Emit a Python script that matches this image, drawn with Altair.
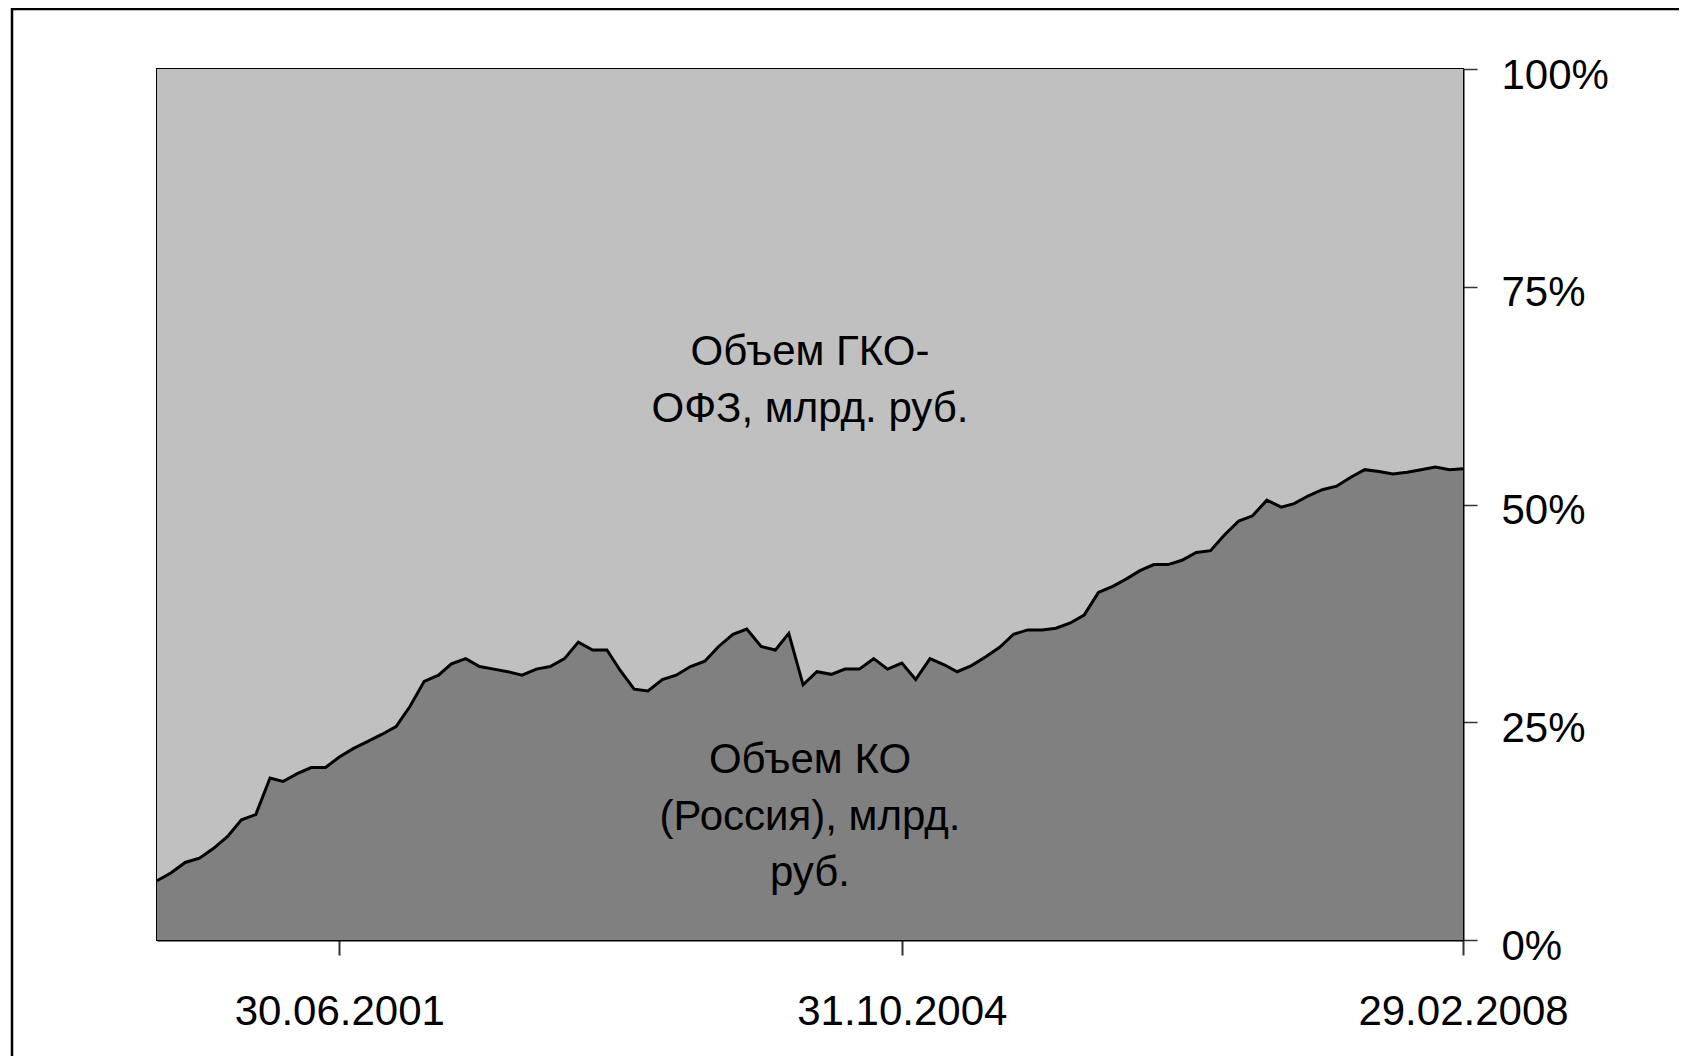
import calendar
import altair as alt
import pandas as pd

# Monthly observations, end of month, May 2000 .. Feb 2008
months = []
y, m = 2000, 5
while (y, m) <= (2008, 2):
    months.append(f"{y:04d}-{m:02d}-{calendar.monthrange(y, m)[1]:02d}")
    m += 1
    if m > 12:
        y, m = y + 1, 1

# Share of КО (Russia) in total, %
ko_share = [
    6.8, 7.7, 8.9, 9.4, 10.5, 11.9, 13.8, 14.4, 18.6, 18.2,
    19.1, 19.8, 19.8, 21.0, 22.0, 22.8, 23.6, 24.5, 26.8, 29.7,
    30.4, 31.7, 32.3, 31.4, 31.1, 30.8, 30.4, 31.1, 31.4, 32.3,
    34.2, 33.3, 33.3, 31.0, 28.8, 28.6, 29.9, 30.4, 31.4, 32.0,
    33.7, 35.1, 35.7, 33.7, 33.3, 35.2, 29.3, 30.8, 30.5, 31.1,
    31.1, 32.3, 31.1, 31.8, 29.9, 32.3, 31.6, 30.8, 31.5, 32.5,
    33.6, 35.1, 35.6, 35.6, 35.8, 36.4, 37.3, 39.9, 40.6, 41.4,
    42.4, 43.1, 43.1, 43.6, 44.5, 44.7, 46.5, 48.1, 48.7, 50.5,
    49.7, 50.1, 51.0, 51.7, 52.1, 53.1, 54.0, 53.8, 53.5, 53.7,
    54.0, 54.3, 54.0, 54.1,
]
gko_share = [round(100 - v, 1) for v in ko_share]

series_names = ["Объем КО (Россия), млрд. руб.", "Объем ГКО-ОФЗ, млрд. руб."]
series_colors = ["#808080", "#C0C0C0"]

# In-plot labels (text lines, anchor date, anchor share)
label_lines = ["Объем ГКО-", "ОФЗ, млрд. руб.", "Объем КО", "(Россия), млрд.", "руб."]
label_dates = ["2004-04-15"] * 5
label_pos = [0.675, 0.610, 0.207, 0.141, 0.077]

tick_dates = [(2001, 6, 30), (2004, 10, 31), (2008, 2, 29)]
y_ticks = [0, 0.25, 0.5, 0.75, 1]

rows = []
for d, a, b in zip(months, ko_share, gko_share):
    rows.append({"date": d, "series": series_names[0], "share": a, "order": 0})
    rows.append({"date": d, "series": series_names[1], "share": b, "order": 1})
df = pd.DataFrame(rows)
line_df = pd.DataFrame({"date": months, "pct": [v / 100 for v in ko_share]})
lab_df = pd.DataFrame({"date": label_dates, "pos": label_pos, "text": label_lines})

FONT = "Liberation Sans"

x_scale = alt.Scale(
    type="utc",
    domain=[alt.DateTime(year=2000, month=5, date=31, utc=True),
            alt.DateTime(year=2008, month=2, date=29, utc=True)],
    nice=False,
)
x_axis = alt.Axis(
    values=[alt.DateTime(year=a, month=b, date=c, utc=True) for a, b, c in tick_dates],
    format="%d.%m.%Y", title=None, grid=False,
    labelFontSize=42, labelFont=FONT, labelColor="black", labelPadding=36,
    labelLimit=0, labelOverlap=False,
    tickSize=15, tickColor="#333333", tickWidth=2,
    domainColor="black", domainWidth=2, labelFlush=False,
)
y_scale = alt.Scale(domain=[0, 1], nice=False)
y_axis = alt.Axis(
    orient="right", values=y_ticks, format=".0%", title=None, grid=False,
    labelFontSize=42, labelFont=FONT, labelColor="black", labelPadding=24,
    labelOffset=6, labelLimit=0,
    tickSize=14, tickColor="#333333", tickWidth=1.5,
    domainColor="black", domainWidth=2,
)

area = alt.Chart(df).mark_area(opacity=1).encode(
    x=alt.X("date:T", scale=x_scale, axis=x_axis),
    y=alt.Y("share:Q", stack="normalize", scale=y_scale, axis=y_axis),
    color=alt.Color("series:N", scale=alt.Scale(domain=series_names, range=series_colors), legend=None),
    order=alt.Order("order:Q"),
)

boundary = alt.Chart(line_df).mark_line(color="black", strokeWidth=3).encode(
    x=alt.X("date:T", scale=x_scale),
    y=alt.Y("pct:Q", scale=y_scale),
)

labels = alt.Chart(lab_df).mark_text(
    font=FONT, fontSize=42, color="black", align="center", baseline="middle"
).encode(
    x=alt.X("date:T", scale=x_scale),
    y=alt.Y("pos:Q", scale=y_scale),
    text="text:N",
)

frame = alt.Chart(alt.Data(values=[{"a": 1}])).mark_rect(
    filled=False, stroke="black", strokeWidth=2.5
).encode(
    x=alt.value(-145), x2=alt.value(3000), y=alt.value(-60), y2=alt.value(3000)
)

chart = alt.layer(area, boundary, labels, frame).properties(
    width=1306, height=871,
    autosize=alt.AutoSizeParams(type="none"),
    padding={"left": 149, "top": 61, "right": 216, "bottom": 116},
    background="white",
).configure_view(stroke="black", strokeWidth=2)

chart.save("out.html", embed_options={"renderer": "svg", "actions": False})
